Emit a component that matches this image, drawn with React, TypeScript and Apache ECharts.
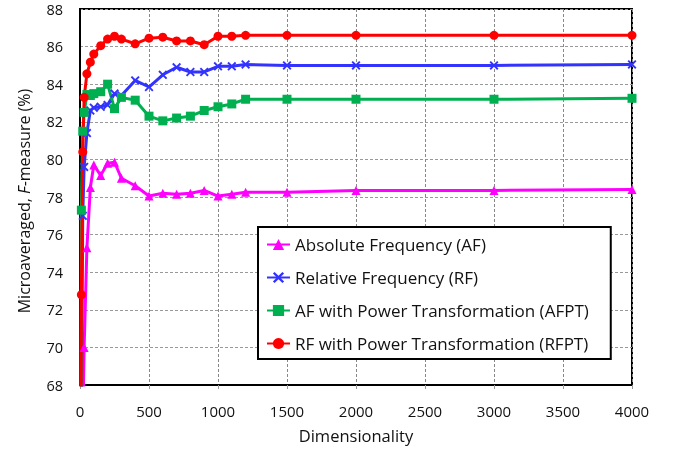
import React, { useEffect, useRef } from "react";
import * as echarts from "echarts";

const dims = [5, 10, 20, 30, 50, 75, 100, 150, 200, 250, 300, 400, 500, 600, 700, 800, 900, 1000, 1100, 1200, 1500, 2000, 3000, 4000];

const afValues = [55, 62, 66, 70, 75.3, 78.5, 79.7, 79.15, 79.8, 79.85, 79.0, 78.6, 78.05, 78.2, 78.15, 78.2, 78.35, 78.05, 78.15, 78.25, 78.25, 78.35, 78.35, 78.4];
const rfValues = [60, 66, 77.0, 79.6, 81.4, 82.6, 82.75, 82.8, 82.9, 83.5, 83.4, 84.2, 83.85, 84.5, 84.9, 84.65, 84.65, 84.95, 84.95, 85.05, 85.0, 85.0, 85.0, 85.05];
const afptValues = [60, 77.3, 81.5, 82.5, 83.45, 83.4, 83.5, 83.6, 84.0, 82.7, 83.3, 83.15, 82.3, 82.05, 82.2, 82.3, 82.6, 82.8, 82.95, 83.2, 83.2, 83.2, 83.2, 83.25];
const rfptValues = [60, 72.8, 80.4, 83.3, 84.55, 85.17, 85.6, 86.05, 86.4, 86.55, 86.4, 86.15, 86.45, 86.5, 86.3, 86.3, 86.1, 86.55, 86.55, 86.6, 86.6, 86.6, 86.6, 86.6];

const seriesNames = [
  "Absolute Frequency (AF)",
  "Relative Frequency (RF)",
  "AF with Power Transformation (AFPT)",
  "RF with Power Transformation (RFPT)",
];

const FONT = "Open Sans";
const CROSS = "path://M0,1.5L1.5,0L5,3.5L8.5,0L10,1.5L6.5,5L10,8.5L8.5,10L5,6.5L1.5,10L0,8.5L3.5,5Z";

export default function App() {
  const ref = useRef<HTMLDivElement>(null);
  useEffect(() => {
    if (!ref.current) return;
    const chart = echarts.init(ref.current, undefined, { renderer: "svg" });
    const pair = (vals: number[]) => dims.map((d, i) => [d, vals[i]]);
    const mk = (name: string, vals: number[], color: string, symbol: string, size: number) => ({
      name,
      type: "line",
      data: pair(vals),
      symbol,
      symbolSize: size,
      clip: true,
      lineStyle: { color, width: 3 },
      itemStyle: { color },
    });
    chart.setOption({
      animation: false,
      textStyle: { fontFamily: FONT },
      grid: {
        left: 80,
        right: 43,
        top: 9,
        bottom: 78,
        show: true,
        borderColor: "#000",
        borderWidth: 2,
        backgroundColor: "transparent",
      },
      graphic: [
        {
          type: "text",
          x: 24,
          y: 201,
          rotation: Math.PI / 2,
          style: {
            text: "{a|Microaveraged, }{b|F}{a|-measure (%)}",
            align: "center",
            verticalAlign: "middle",
            rich: {
              a: { fontFamily: FONT, fontSize: 16, fill: "#111" },
              b: { fontFamily: FONT, fontSize: 16, fill: "#111", fontStyle: "italic" },
            },
          },
        },
      ],
      legend: {
        orient: "vertical",
        left: 258,
        top: 227,
        backgroundColor: "#fff",
        borderColor: "#000",
        borderWidth: 2,
        padding: [9, 22, 7, 8],
        itemWidth: 23,
        itemHeight: 14,
        itemGap: 16,
        itemTextGap: 20,
        textStyle: { fontFamily: FONT, fontSize: 17, color: "#111", lineHeight: 17 },
        data: seriesNames,
      },
      xAxis: {
        type: "value",
        min: 0,
        max: 4000,
        interval: 500,
        name: "Dimensionality",
        nameLocation: "middle",
        nameGap: 42,
        nameTextStyle: { fontFamily: FONT, fontSize: 16.5, color: "#111" },
        axisLine: { show: true, lineStyle: { color: "#000", width: 2 } },
        axisTick: { show: true, length: 4, lineStyle: { color: "#999" } },
        axisLabel: {
          margin: 18,
          fontFamily: FONT,
          fontSize: 15,
          color: "#111",
          formatter: (v: number) => String(v),
        },
        splitLine: { show: true, lineStyle: { color: "#888", type: [3, 2], width: 1 } },
      },
      yAxis: {
        type: "value",
        min: 68,
        max: 88,
        interval: 2,
        axisLine: { show: true, lineStyle: { color: "#000", width: 2 } },
        axisTick: { show: false },
        axisLabel: { margin: 17, fontFamily: FONT, fontSize: 14.5, lineHeight: 12, color: "#111" },
        splitLine: { show: true, lineStyle: { color: "#999", type: [3, 2], width: 1 } },
      },
      series: [
        mk(seriesNames[0], afValues, "#FF00FF", "triangle", 9),
        mk(seriesNames[1], rfValues, "#3333FF", CROSS, 9),
        mk(seriesNames[2], afptValues, "#00B050", "rect", 9),
        mk(seriesNames[3], rfptValues, "#FF0000", "circle", 9),
      ],
    });
    return () => chart.dispose();
  }, []);
  return <div ref={ref} style={{ position: "fixed", left: 0, top: 0, width: 675, height: 463 }} />;
}
